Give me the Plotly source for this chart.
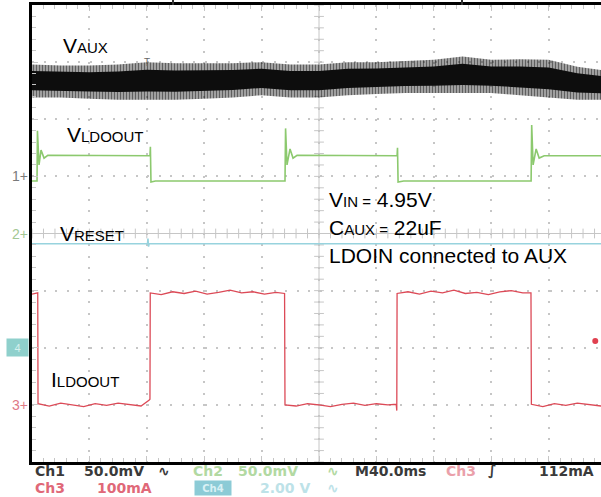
import plotly.graph_objects as go

# ---------------- data (read from the scope screen) ----------------
# time base: 40 ms/div, visible window 0 .. 396.5 ms
t_window = [0, 396.5]
ms_per_div = 40

# Ch1  V_AUX (mV, 50 mV/div) : envelope of the noisy trace
aux_t = [0, 20, 40, 60, 80, 100, 120, 140, 160, 180, 200, 220, 240, 260, 280, 300, 320, 340, 360, 380, 396.5]
aux_max = [98, 97, 97, 98, 100, 99, 99, 99, 100, 98, 98, 100, 100, 101, 102, 105, 102, 102.5, 102, 96, 93]
aux_min = [69, 69, 68, 67, 67, 67, 68, 69, 71, 69, 69, 71, 72, 73, 73, 73, 73, 71, 69, 67, 67]

# Ch2  V_LDOOUT (mV, 50 mV/div)
ldo_t = [0, 3.5, 3.8, 4.9, 6.3, 8.4, 11, 82.2, 82.5, 82.9, 86, 176.3, 176.7, 177.7, 179.8, 181.9, 184.7,
         254.4, 254.7, 255.1, 259, 347.8, 348.2, 349.2, 351.3, 353.4, 356.9, 396.5]
ldo_v = [46, 46, 90, 60, 73, 66, 68.5, 68, 76, 45, 46, 46, 92, 60, 74, 66, 68.5,
         68, 75, 45, 46, 46, 95, 60, 74, 66, 68, 68]

# Ch3  I_LDOOUT (mA, 100 mA/div)
i_t = [0, 4.0, 4.2,
       12, 20, 28, 36, 44, 52, 60, 68, 76,
       81.5, 82.2, 82.4,
       90, 98, 106, 114, 122, 130, 138, 146, 154, 162, 170,
       176.0, 176.3,
       184, 192, 200, 208, 216, 224, 232, 240, 248,
       253.8, 254.2, 254.4,
       262, 270, 278, 286, 294, 302, 310, 318, 326, 334, 342,
       347.7, 348.0,
       356, 364, 372, 380, 388, 396.5]
i_ma = [194, 196, 2,
        -2, 3, 0, -3, 2, -1, 3, 0, -2,
        8, 10, 196,
        193, 198, 195, 199, 194, 197, 201, 196, 198, 194, 197,
        195, 0,
        -2, 2, 0, -3, 1, 3, -1, 2, 0,
        1, -10, 195,
        198, 194, 199, 196, 201, 195, 197, 193, 198, 200, 196,
        196, 1,
        -3, 2, -1, 3, 0, -2]

# Ch4  V_RESET (V, 2 V/div)
rst_t = [0, 80.5, 80.8, 81.2, 81.6, 396.5]
rst_v = [3.64, 3.64, 3.82, 3.54, 3.64, 3.64]

# trigger
trig_level_ma = 112

# channel settings: scale per division and ground-marker position (div)
chan = {
    1: dict(scale=50, pos=1, axis="y2"),
    2: dict(scale=50, pos=0, axis="y3"),
    3: dict(scale=100, pos=-3, axis="y4"),
    4: dict(scale=2, pos=-2, axis="y5"),
}

# ---------------- figure ----------------
L, T, W, H = 32, 5, 569, 457
FIG_W, FIG_H = 601, 497


def px(xp):
    return (xp - L) / W


def py(yp):
    return (T + H - yp) / H


fig = go.Figure()
GRID = "#c6c6c6"

# graticule: ticks along the centre cross
minor_y = [k / 5 - 4 for k in range(41)]
minor_t = [k * ms_per_div / 5 for k in range(50) if k * ms_per_div / 5 <= t_window[1]]
centre_t = 5 * ms_per_div
fig.add_trace(go.Scatter(x=[centre_t] * len(minor_y), y=minor_y, mode="markers",
                         marker=dict(symbol="line-ew", size=7, line=dict(width=1, color=GRID)),
                         hoverinfo="skip"))
fig.add_trace(go.Scatter(x=minor_t, y=[0] * len(minor_t), mode="markers",
                         marker=dict(symbol="line-ns", size=7, line=dict(width=1, color=GRID)),
                         hoverinfo="skip"))

# Ch1 noisy band
span = [a - b for a, b in zip(aux_max, aux_min)]
core_hi = [a - 0.2 * s for a, s in zip(aux_max, span)]
core_lo = [b + 0.22 * s for b, s in zip(aux_min, span)]
fig.add_trace(go.Scatter(x=aux_t, y=aux_min, yaxis="y2", mode="lines",
                         line=dict(width=0), hoverinfo="skip"))
fig.add_trace(go.Scatter(x=aux_t, y=aux_max, yaxis="y2", mode="lines", fill="tonexty",
                         fillcolor="rgba(0,0,0,0.45)",
                         fillpattern=dict(shape="|", fgcolor="#000000", bgcolor="rgba(0,0,0,0.25)",
                                          size=3, solidity=0.55),
                         line=dict(width=0), hoverinfo="skip"))
fig.add_trace(go.Scatter(x=aux_t, y=core_lo, yaxis="y2", mode="lines",
                         line=dict(width=0), hoverinfo="skip"))
fig.add_trace(go.Scatter(x=aux_t, y=core_hi, yaxis="y2", mode="lines", fill="tonexty",
                         fillcolor="#0d0d0d", line=dict(width=0), hoverinfo="skip"))

# Ch2 green
fig.add_trace(go.Scatter(x=ldo_t, y=ldo_v, yaxis="y3", mode="lines",
                         line=dict(color="#8cc96e", width=1.6), hoverinfo="skip"))
# Ch4 cyan
fig.add_trace(go.Scatter(x=rst_t, y=rst_v, yaxis="y5", mode="lines",
                         line=dict(color="#98d3de", width=1.6), hoverinfo="skip"))
# Ch3 red
fig.add_trace(go.Scatter(x=i_t, y=i_ma, yaxis="y4", mode="lines",
                         line=dict(color="#dc4a57", width=1.3), hoverinfo="skip"))
# trigger level marker
fig.add_trace(go.Scatter(x=[t_window[1] - 4], y=[trig_level_ma], yaxis="y4", mode="markers",
                         marker=dict(symbol="circle", size=6, color="#e0404f"), hoverinfo="skip",
                         cliponaxis=False))

axis_common = dict(showticklabels=False, showline=True, linecolor="black",
                   linewidth=3, ticks="inside", tickcolor=GRID, ticklen=6, showgrid=True,
                   gridcolor=GRID, gridwidth=1.5, fixedrange=True)
fig.update_layout(
    width=FIG_W, height=FIG_H, margin=dict(l=L, r=FIG_W - L - W, t=T, b=FIG_H - T - H),
    paper_bgcolor="white", plot_bgcolor="white", showlegend=False,
    xaxis=dict(range=t_window, dtick=ms_per_div, tick0=0, mirror="ticks", zeroline=False,
               griddash="2px,9.4px",
               minor=dict(dtick=ms_per_div / 5, ticks="inside", ticklen=4, tickcolor=GRID, showgrid=False),
               **axis_common),
    yaxis=dict(range=[-4, 4], dtick=1, tick0=0, mirror=False, griddash="2px,9.5px",
               zeroline=True, zerolinecolor=GRID, zerolinewidth=1,
               minor=dict(dtick=0.2, ticks="inside", ticklen=4, tickcolor=GRID, showgrid=False),
               **axis_common),
)
for n, c in chan.items():
    key = "yaxis" + c["axis"][1:]
    fig.layout[key] = dict(overlaying="y", visible=False, fixedrange=True,
                           range=[(-4 - c["pos"]) * c["scale"], (4 - c["pos"]) * c["scale"]])

# centre vertical line
fig.add_shape(type="line", xref="x", yref="paper", x0=centre_t, x1=centre_t, y0=0, y1=1,
              line=dict(color=GRID, width=1), layer="below")
# top markers
for xm in (173, 462):
    fig.add_shape(type="line", xref="paper", yref="paper", x0=px(xm), x1=px(xm), y0=py(0), y1=py(5),
                  line=dict(color="#333", width=2))

FONT = "Liberation Sans, Arial, Helvetica, sans-serif"
SUB = "<span style='font-size:15px'>{}</span>"
labels = [
    (61, 45, "V" + SUB.format("AUX")),
    (65, 134.5, "V" + SUB.format("LDOOUT")),
    (58, 233.5, "V" + SUB.format("RESET")),
    (49, 379, "I" + SUB.format("LDOOUT")),
    (327, 199.5, "V" + SUB.format("IN =") + " 4.95V"),
    (327, 227.5, "C" + SUB.format("AUX =") + " 22uF"),
    (327, 255.5, "LDOIN connected to AUX"),
]
for xl, yl, txt in labels:
    fig.add_annotation(xref="paper", yref="paper", x=px(xl), y=py(yl), text=txt, showarrow=False,
                       xanchor="left", yanchor="middle", font=dict(family=FONT, size=21, color="black"))

fig.add_annotation(xref="paper", yref="paper", x=px(147), y=py(63), text="T", showarrow=False,
                   xanchor="center", yanchor="middle", font=dict(family=FONT, size=10, color="#666"))

# channel ground markers
marker_cols = {1: "#7a7a7a", 2: "#a3c793", 3: "#e07a86"}
for n, col in marker_cols.items():
    fig.add_annotation(xref="paper", yref=chan[n]["axis"], x=0, y=0, text=f"{n}+", showarrow=False,
                       xanchor="right", yanchor="middle", xshift=-2,
                       font=dict(family=FONT, size=14, color=col))
fig.add_annotation(xref="paper", yref=chan[4]["axis"], x=0, y=0, text="4", showarrow=False,
                   xanchor="right", yanchor="middle", xshift=-3, bgcolor="#8fd0cc", width=19, height=15,
                   font=dict(family=FONT, size=11, color="#d8f0ee"))

# status lines (centre x, centre y, text, colour)
STAT = "DejaVu Sans, sans-serif"
status = [
    (50, 471, "Ch1", "#3a3a3a"), (114, 471, "50.0mV", "#3a3a3a"), (164, 471, "∿", "#3a3a3a"),
    (208, 471, "Ch2", "#b2d9a2"), (268, 471, "50.0mV", "#b2d9a2"), (333, 471, "∿", "#b2d9a2"),
    (390, 471, "M40.0ms", "#3a3a3a"), (461, 471, "Ch3", "#eaa0aa"), (492, 471, "∫", "#3a3a3a"),
    (566, 471, "112mA", "#3a3a3a"),
    (50, 488, "Ch3", "#e06878"), (125, 488, "100mA", "#e06878"),
    (285, 488, "2.00 V", "#bde2e8"), (333, 488, "∿", "#bde2e8"),
]
for xs, ys, txt, col in status:
    fig.add_annotation(xref="paper", yref="paper", x=px(xs), y=py(ys), text=f"<b>{txt}</b>",
                       showarrow=False, xanchor="center", yanchor="middle", borderpad=0,
                       font=dict(family=STAT, size=14, color=col))
fig.add_annotation(xref="paper", yref="paper", x=px(213), y=py(488), text="<b>Ch4</b>", showarrow=False,
                   xanchor="center", yanchor="middle", bgcolor="#8ccbd6", height=14, width=36, borderpad=0,
                   font=dict(family=STAT, size=10, color="#d9f1f5"))

fig.write_html("out.html")
